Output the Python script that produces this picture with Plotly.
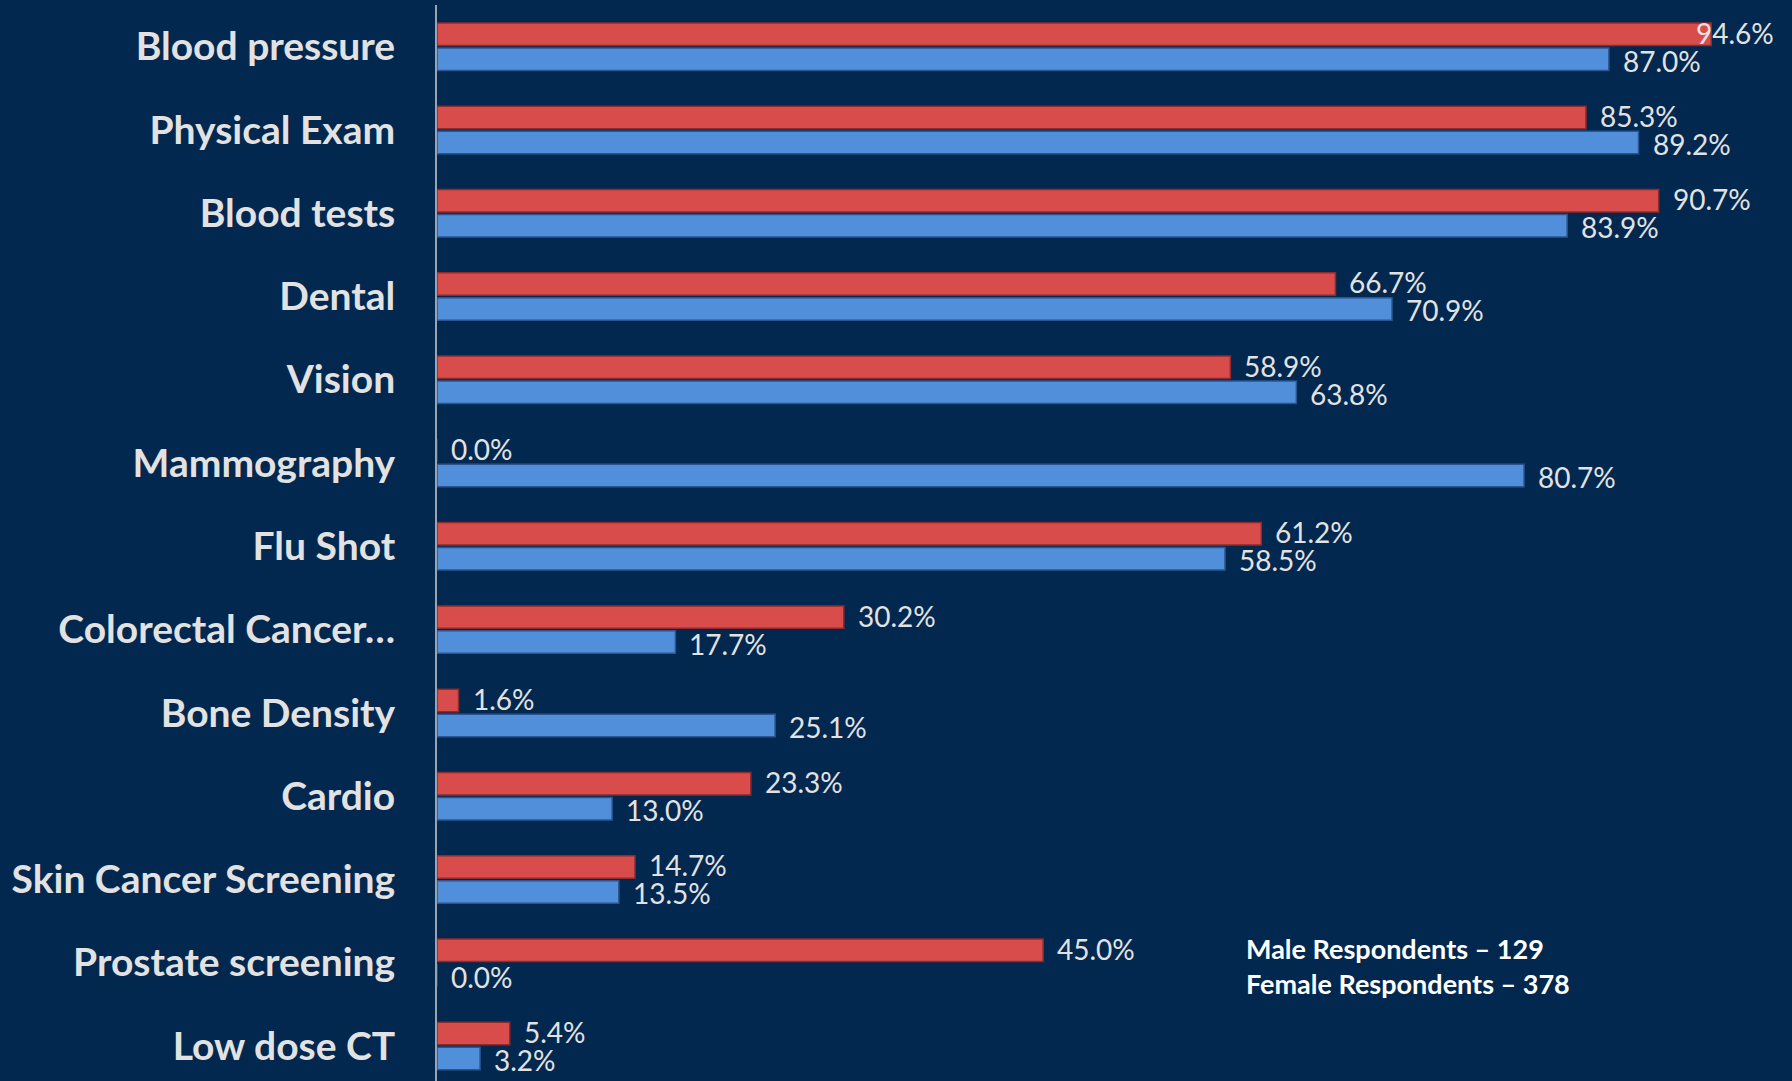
import plotly.graph_objects as go

categories = ["Blood pressure", "Physical Exam", "Blood tests", "Dental", "Vision",
              "Mammography", "Flu Shot", "Colorectal Cancer…", "Bone Density",
              "Cardio", "Skin Cancer Screening", "Prostate screening", "Low dose CT"]
male = [94.6, 85.3, 90.7, 66.7, 58.9, 0.0, 61.2, 30.2, 1.6, 23.3, 14.7, 45.0, 5.4]
female = [87.0, 89.2, 83.9, 70.9, 63.8, 80.7, 58.5, 17.7, 25.1, 13.0, 13.5, 0.0, 3.2]
note_lines = ["Male Respondents – 129", "Female Respondents – 378"]

BG = "#02284F"
RED = "#D84C4C"
RED_EDGE = "#8E2B2B"
BLUE = "#518FDA"
BLUE_EDGE = "#2B5590"
LABEL = "#E2E2E2"

fig = go.Figure()
fig.add_trace(go.Bar(y=categories, x=male, orientation="h", name="Male",
                     marker=dict(color=RED, line=dict(color=RED_EDGE, width=1.5))))
fig.add_trace(go.Bar(y=categories, x=female, orientation="h", name="Female",
                     marker=dict(color=BLUE, line=dict(color=BLUE_EDGE, width=1.5))))

annotations = []
for series, shift in ((male, 14), (female, -14)):
    for cat, v in zip(categories, series):
        if v > 93:
            ax, anchor, xs = 99.4, "right", 0
        else:
            ax, anchor, xs = v, "left", 12
        annotations.append(dict(x=ax, y=cat, xref="x", yref="y", text=f"{v:.1f}%",
                                showarrow=False, xanchor=anchor, yanchor="middle",
                                xshift=xs, yshift=shift,
                                font=dict(family="Lato", size=28, color=LABEL)))

annotations.append(dict(x=0.599, y=0.107, xref="paper", yref="paper",
                        text="<br>".join(note_lines), showarrow=False,
                        xanchor="left", yanchor="middle", align="left",
                        font=dict(family="Lato", size=27, color="#FFFFFF", weight="bold")))

fig.update_layout(
    width=1792, height=1081,
    paper_bgcolor=BG, plot_bgcolor=BG,
    margin=dict(l=437, r=8, t=5, b=0),
    barmode="group", bargap=0.4, bargroupgap=0.1,
    showlegend=False,
    annotations=annotations,
    xaxis=dict(range=[0, 100], visible=False, showgrid=False, zeroline=False),
    yaxis=dict(range=[12.42, -0.5], showgrid=False, zeroline=False, automargin=False,
               showline=True, linecolor="#9AA3AE", linewidth=2,
               ticks="", ticklabelstandoff=32,
               tickfont=dict(family="Lato", size=39, color=LABEL, weight="bold")),
)

fig.write_html("out.html", config={"displayModeBar": False},
               post_script="document.body.style.margin='0';document.body.style.background='#02284F';")
